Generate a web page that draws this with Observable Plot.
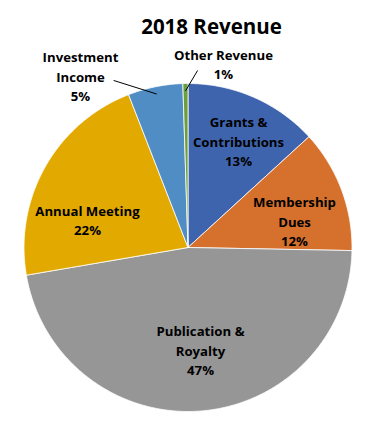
<!DOCTYPE html>
<html>
<head>
<meta charset="utf-8">
<script src="https://cdn.jsdelivr.net/npm/d3@7"></script>
<script src="https://cdn.jsdelivr.net/npm/@observablehq/plot@0.6"></script>
<style>
  html, body { margin: 0; padding: 0; background: #fff; }
</style>
</head>
<body>
<div id="chart"></div>
<script>
// ---- data ----
const title = "2018 Revenue";
const categories = ["Grants & Contributions", "Membership Dues", "Publication & Royalty", "Annual Meeting", "Investment Income", "Other Revenue"];
const values = [13.2, 12.1, 47.0, 21.8, 5.4, 0.5];
const labelNames = ["Grants &\nContributions", "Membership\nDues", "Publication &\nRoyalty", "Annual Meeting", "Investment\nIncome", "Other Revenue"];

// ---- styles / layout ----
const colors = ["#3F64AE", "#D6702D", "#969696", "#E2AA00", "#4F8DC4", "#6A9E3E"];
// label centre in polar terms: [angle deg clockwise from top, radius fraction]
const labelPolar = [[25.3, 0.721], [75.8, 0.670], [173.0, 0.627], [285.6, 0.636], [328.0, 1.237], [10.9, 1.143]];
// leader line start for outside labels (null = none)
const leaderStart = [null, null, null, null, [336.0, 1.115], [3.1, 1.081]];
const leaderEndR = 0.955;

const cx = 187.5, cy = 247, R = 164;

const total = d3.sum(values);
const arcs = d3.pie().sort(null).value(d => d)(values);

const polar = (aDeg, r) => ({x: r * Math.sin(aDeg * Math.PI / 180), y: r * Math.cos(aDeg * Math.PI / 180)});

// slice outlines in unit-circle coordinates
const slicePts = [];
arcs.forEach((a, i) => {
  const n = Math.max(2, Math.ceil((a.endAngle - a.startAngle) / 0.01));
  slicePts.push({name: categories[i], x: 0, y: 0});
  for (let k = 0; k <= n; k++) {
    const t = a.startAngle + (a.endAngle - a.startAngle) * k / n;
    slicePts.push({name: categories[i], x: Math.sin(t), y: Math.cos(t)});
  }
  slicePts.push({name: categories[i], x: 0, y: 0});
});

const labels = categories.map((c, i) => {
  const p = polar(labelPolar[i][0], labelPolar[i][1]);
  return {name: c, text: labelNames[i] + "\n" + Math.round(values[i] / total * 100) + "%", x: p.x, y: p.y};
});

const leaders = [];
arcs.forEach((a, i) => {
  if (!leaderStart[i]) return;
  const mid = (a.startAngle + a.endAngle) / 2 * 180 / Math.PI;
  const s = polar(leaderStart[i][0], leaderStart[i][1]);
  const e = polar(mid, leaderEndR);
  leaders.push({x1: s.x, y1: s.y, x2: e.x, y2: e.y});
});

const chart = Plot.plot({
  width: 376,
  height: 433,
  margin: 0,
  x: {domain: [-1, 1], range: [cx - R, cx + R], axis: null},
  y: {domain: [-1, 1], range: [cy + R, cy - R], axis: null},
  color: {domain: categories, range: colors},
  style: {background: "#fff", fontFamily: "'Open Sans', Lato, sans-serif"},
  marks: [
    Plot.line(slicePts, {x: "x", y: "y", z: "name", fill: "name", stroke: "#fff", strokeWidth: 0.8, curve: "linear"}),
    Plot.link(leaders, {x1: "x1", y1: "y1", x2: "x2", y2: "y2", stroke: "#000", strokeWidth: 1}),
    Plot.text(labels, {x: "x", y: "y", text: "text", fill: "#000", fontSize: 13.2, fontWeight: "bold", lineAnchor: "middle", lineHeight: 1.48}),
    Plot.text([title], {frameAnchor: "top", dx: 23, dy: 27, text: d => d, fontSize: 20.5, fontWeight: "bold", fill: "#000", lineAnchor: "middle"})
  ]
});
document.getElementById("chart").appendChild(chart);
</script>
</body>
</html>
